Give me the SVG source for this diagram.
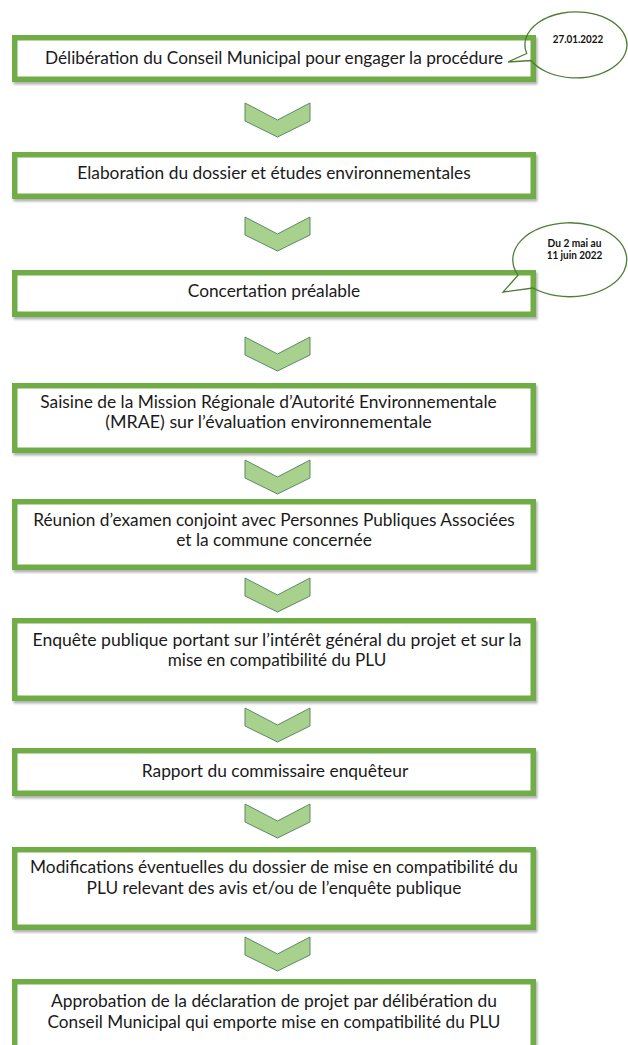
<svg xmlns="http://www.w3.org/2000/svg" xmlns:xlink="http://www.w3.org/1999/xlink" width="628" height="1045" viewBox="0 0 628 1045">
<style>
.box{fill:#ffffff;stroke:#70AD47;stroke-width:5.5;filter:url(#sh)}
.t{font-family:Lato,"Liberation Sans",sans-serif;font-size:17px;fill:#1a1a1a;text-anchor:middle}
.c{font-family:Lato,"Liberation Sans",sans-serif;font-size:10.5px;font-weight:bold;fill:#111;text-anchor:middle}
.call{fill:none;stroke:#4f7d35;stroke-width:1.3;stroke-linejoin:miter}
.chev{fill:#A9D18E;stroke:#5a8a66;stroke-width:1}
</style>
<defs>
<filter id="sh" x="-5%" y="-20%" width="110%" height="150%">
<feDropShadow dx="1.5" dy="2.5" stdDeviation="1.2" flood-color="#000" flood-opacity="0.3"/>
</filter>
<path id="chevron" d="M0,0 L32.5,17 L65,0 L65,18 L32.5,34 L0,18 Z"/>
</defs>
<rect width="628" height="1045" fill="#ffffff"/>

<g id="connectors">
<use xlink:href="#chevron" class="chev" transform="translate(245,103)"/>
<use xlink:href="#chevron" class="chev" transform="translate(245,217)"/>
<use xlink:href="#chevron" class="chev" transform="translate(245,337)"/>
<use xlink:href="#chevron" class="chev" transform="translate(245,460)"/>
<use xlink:href="#chevron" class="chev" transform="translate(245,578)"/>
<use xlink:href="#chevron" class="chev" transform="translate(245,708)"/>
<use xlink:href="#chevron" class="chev" transform="translate(245,804)"/>
<use xlink:href="#chevron" class="chev" transform="translate(245,937)"/>
</g>

<g id="n1">
<rect class="box" x="14.75" y="37.75" width="518.5" height="41.5"/>
<text class="t" x="274" y="64" textLength="458" lengthAdjust="spacingAndGlyphs">Délibération du Conseil Municipal pour engager la procédure</text>
</g>
<g id="n2">
<rect class="box" x="14.75" y="154.75" width="518.5" height="41.5"/>
<text class="t" x="274" y="179" textLength="393.5" lengthAdjust="spacingAndGlyphs">Elaboration du dossier et études environnementales</text>
</g>
<g id="n3">
<rect class="box" x="14.75" y="272.75" width="518.5" height="41.5"/>
<text class="t" x="274" y="297" textLength="172.5" lengthAdjust="spacingAndGlyphs">Concertation préalable</text>
</g>
<g id="n4">
<rect class="box" x="14.75" y="385.75" width="518.5" height="64.5"/>
<text class="t" x="268.5" y="408" textLength="456.5" lengthAdjust="spacingAndGlyphs">Saisine de la Mission Régionale d’Autorité Environnementale</text>
<text class="t" x="268.5" y="428" textLength="326.6" lengthAdjust="spacingAndGlyphs">(MRAE) sur l’évaluation environnementale</text>
</g>
<g id="n5">
<rect class="box" x="14.75" y="501.75" width="518.5" height="65.5"/>
<text class="t" x="274" y="526" textLength="481.5" lengthAdjust="spacingAndGlyphs">Réunion d’examen conjoint avec Personnes Publiques Associées</text>
<text class="t" x="274" y="546" textLength="195.7" lengthAdjust="spacingAndGlyphs">et la commune concernée</text>
</g>
<g id="n6">
<rect class="box" x="14.75" y="620.75" width="518.5" height="77.5"/>
<text class="t" x="277" y="646" textLength="489" lengthAdjust="spacingAndGlyphs">Enquête publique portant sur l’intérêt général du projet et sur la</text>
<text class="t" x="277" y="666" textLength="218.6" lengthAdjust="spacingAndGlyphs">mise en compatibilité du PLU</text>
</g>
<g id="n7">
<rect class="box" x="14.75" y="750.75" width="518.5" height="42.5"/>
<text class="t" x="275" y="777" textLength="266.5" lengthAdjust="spacingAndGlyphs">Rapport du commissaire enquêteur</text>
</g>
<g id="n8">
<rect class="box" x="14.75" y="849.75" width="518.5" height="77.5"/>
<text class="t" x="274" y="873" textLength="487.8" lengthAdjust="spacingAndGlyphs">Modifications éventuelles du dossier de mise en compatibilité du</text>
<text class="t" x="274" y="894" textLength="374.8" lengthAdjust="spacingAndGlyphs">PLU relevant des avis et/ou de l’enquête publique</text>
</g>
<g id="n9">
<rect class="box" x="14.75" y="981.75" width="518.5" height="80"/>
<text class="t" x="274" y="1007" textLength="446" lengthAdjust="spacingAndGlyphs">Approbation de la déclaration de projet par délibération du</text>
<text class="t" x="274" y="1028" textLength="452.9" lengthAdjust="spacingAndGlyphs">Conseil Municipal qui emporte mise en compatibilité du PLU</text>
</g>

<g id="callout1">
<path class="call" d="M526.7,53.5 L508,62 L531,60.5 A51 33 0 1 0 526.7,53.5 Z"/>
<text class="c" x="578" y="43" textLength="50.5" lengthAdjust="spacingAndGlyphs">27.01.2022</text>
</g>
<g id="callout2">
<path class="call" d="M518,275.2 L503,292 L533,288 A57 37 0 1 0 518,275.2 Z"/>
<text class="c" x="574.5" y="247" textLength="54" lengthAdjust="spacingAndGlyphs">Du 2 mai au</text>
<text class="c" x="574.5" y="259" textLength="55.7" lengthAdjust="spacingAndGlyphs">11 juin 2022</text>
</g>
</svg>
